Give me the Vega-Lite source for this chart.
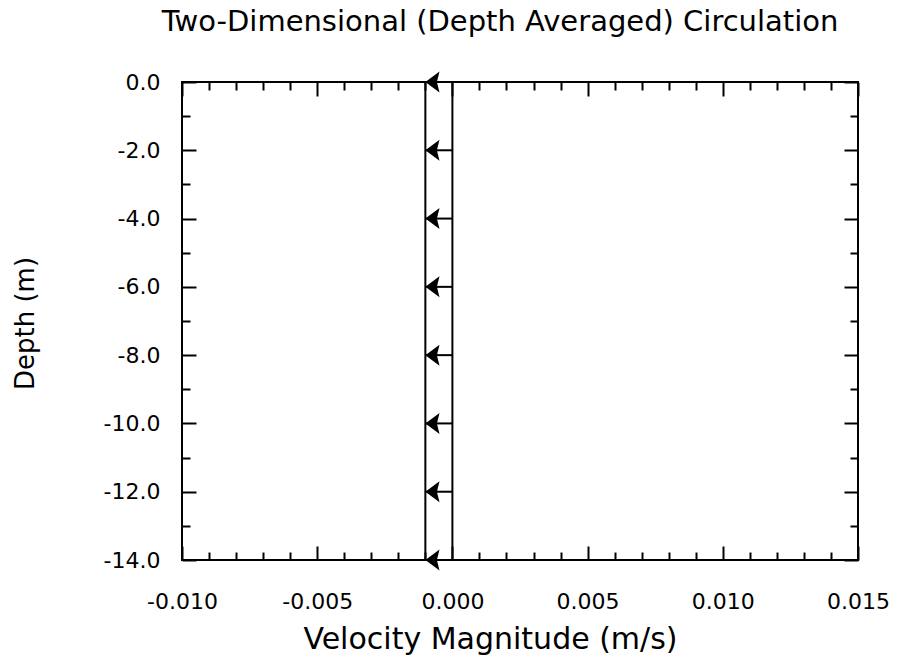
{
  "$schema": "https://vega.github.io/schema/vega-lite/v6.json",
  "width": 676,
  "height": 478,
  "autosize": {"type": "none"},
  "padding": {"left": 182, "top": 82, "right": 44, "bottom": 103},
  "background": "white",
  "title": {
    "text": "Two-Dimensional (Depth Averaged) Circulation",
    "font": "DejaVu Sans",
    "fontSize": 29,
    "fontWeight": "normal",
    "color": "black",
    "baseline": "alphabetic",
    "anchor": "middle",
    "offset": 11,
    "dx": -20
  },
  "config": {
    "view": {"stroke": "black", "strokeWidth": 2},
    "axis": {
      "domain": false,
      "grid": false,
      "tickColor": "black",
      "tickWidth": 2,
      "labelColor": "black",
      "titleColor": "black",
      "labelFont": "DejaVu Sans",
      "titleFont": "DejaVu Sans",
      "labelFontSize": 22,
      "titleFontSize": 28,
      "titleFontWeight": "normal",
      "labelFlush": false,
      "labelOverlap": false
    }
  },
  "datasets": {
    "profile": [
      {"velocity": -0.001, "top": 0, "bottom": -14, "line": "depth-averaged velocity"},
      {"velocity": 0, "top": 0, "bottom": -14, "line": "zero"}
    ],
    "vectors": [
      {"depth": 0, "velocity": -0.001, "origin": 0},
      {"depth": -2, "velocity": -0.001, "origin": 0},
      {"depth": -4, "velocity": -0.001, "origin": 0},
      {"depth": -6, "velocity": -0.001, "origin": 0},
      {"depth": -8, "velocity": -0.001, "origin": 0},
      {"depth": -10, "velocity": -0.001, "origin": 0},
      {"depth": -12, "velocity": -0.001, "origin": 0},
      {"depth": -14, "velocity": -0.001, "origin": 0}
    ]
  },
  "layer": [
    {
      "data": {"name": "profile"},
      "mark": {"type": "rule", "color": "black", "strokeWidth": 2},
      "encoding": {
        "x": {
          "field": "velocity", "type": "quantitative",
          "scale": {"domain": [-0.01, 0.015], "nice": false, "zero": false},
          "axis": {
            "orient": "bottom",
            "values": [-0.01, -0.005, 0, 0.005, 0.01, 0.015],
            "tickSize": -14,
            "labelPadding": 62,
            "labelBaseline": "alphabetic",
            "labelExpr": "replace(format(datum.value, '.3f'), '\u2212', '-')",
            "title": "Velocity Magnitude (m/s)",
            "titleFontSize": 30,
            "titleX": 308,
            "titleY": 88,
            "titleAlign": "center",
            "titleBaseline": "alphabetic"
          }
        },
        "y": {
          "field": "top", "type": "quantitative",
          "scale": {"domain": [-14, 0], "nice": false, "zero": false},
          "axis": {
            "orient": "left",
            "values": [0, -2, -4, -6, -8, -10, -12, -14],
            "tickSize": -14,
            "labelPadding": 36,
            "labelExpr": "replace(format(datum.value, '.1f'), '\u2212', '-')",
            "title": "Depth (m)",
            "titleFontSize": 26,
            "titleX": -149,
            "titleY": 241,
            "titleAngle": 270,
            "titleAlign": "center",
            "titleBaseline": "alphabetic"
          }
        },
        "y2": {"field": "bottom"}
      }
    },
    {
      "data": {"name": "profile"},
      "mark": {"type": "rule", "opacity": 0},
      "encoding": {
        "x": {
          "field": "velocity", "type": "quantitative",
          "scale": {"domain": [-0.01, 0.015], "nice": false, "zero": false},
          "axis": {
            "orient": "bottom",
            "values": [-0.009, -0.008, -0.007, -0.006, -0.004, -0.003, -0.002, -0.001, 0.001, 0.002, 0.003, 0.004, 0.006, 0.007, 0.008, 0.009, 0.011, 0.012, 0.013, 0.014],
            "tickSize": -8,
            "labels": false,
            "title": null
          }
        },
        "y": {
          "field": "top", "type": "quantitative",
          "scale": {"domain": [-14, 0], "nice": false, "zero": false},
          "axis": {
            "orient": "left",
            "values": [-1, -3, -5, -7, -9, -11, -13],
            "tickSize": -8,
            "labels": false,
            "title": null
          }
        },
        "y2": {"field": "bottom"}
      }
    },
    {
      "data": {"name": "profile"},
      "mark": {"type": "rule", "opacity": 0},
      "encoding": {
        "x": {
          "field": "velocity", "type": "quantitative",
          "scale": {"domain": [-0.01, 0.015], "nice": false, "zero": false},
          "axis": {
            "orient": "top",
            "values": [-0.01, -0.005, 0, 0.005, 0.01, 0.015],
            "tickSize": -14,
            "labels": false,
            "title": null
          }
        },
        "y": {
          "field": "top", "type": "quantitative",
          "scale": {"domain": [-14, 0], "nice": false, "zero": false},
          "axis": {
            "orient": "right",
            "values": [0, -2, -4, -6, -8, -10, -12, -14],
            "tickSize": -14,
            "labels": false,
            "title": null
          }
        },
        "y2": {"field": "bottom"}
      }
    },
    {
      "data": {"name": "profile"},
      "mark": {"type": "rule", "opacity": 0},
      "encoding": {
        "x": {
          "field": "velocity", "type": "quantitative",
          "scale": {"domain": [-0.01, 0.015], "nice": false, "zero": false},
          "axis": {
            "orient": "top",
            "values": [-0.009, -0.008, -0.007, -0.006, -0.004, -0.003, -0.002, -0.001, 0.001, 0.002, 0.003, 0.004, 0.006, 0.007, 0.008, 0.009, 0.011, 0.012, 0.013, 0.014],
            "tickSize": -8,
            "labels": false,
            "title": null
          }
        },
        "y": {
          "field": "top", "type": "quantitative",
          "scale": {"domain": [-14, 0], "nice": false, "zero": false},
          "axis": {
            "orient": "right",
            "values": [-1, -3, -5, -7, -9, -11, -13],
            "tickSize": -8,
            "labels": false,
            "title": null
          }
        },
        "y2": {"field": "bottom"}
      }
    },
    {
      "data": {"name": "vectors"},
      "mark": {"type": "rule", "color": "black", "strokeWidth": 2},
      "encoding": {
        "x": {"field": "origin", "type": "quantitative", "scale": {"domain": [-0.01, 0.015], "nice": false, "zero": false}, "axis": null},
        "x2": {"field": "velocity"},
        "y": {"field": "depth", "type": "quantitative", "scale": {"domain": [-14, 0], "nice": false, "zero": false}, "axis": null}
      }
    },
    {
      "data": {"name": "vectors"},
      "mark": {
        "type": "point",
        "shape": "M0,0L1.35,-1L1.1,0L1.35,1Z",
        "size": 440,
        "filled": true,
        "color": "black",
        "opacity": 1
      },
      "encoding": {
        "x": {"field": "velocity", "type": "quantitative", "scale": {"domain": [-0.01, 0.015], "nice": false, "zero": false}, "axis": null},
        "y": {"field": "depth", "type": "quantitative", "scale": {"domain": [-14, 0], "nice": false, "zero": false}, "axis": null}
      }
    }
  ],
  "resolve": {"axis": {"x": "independent", "y": "independent"}}
}
